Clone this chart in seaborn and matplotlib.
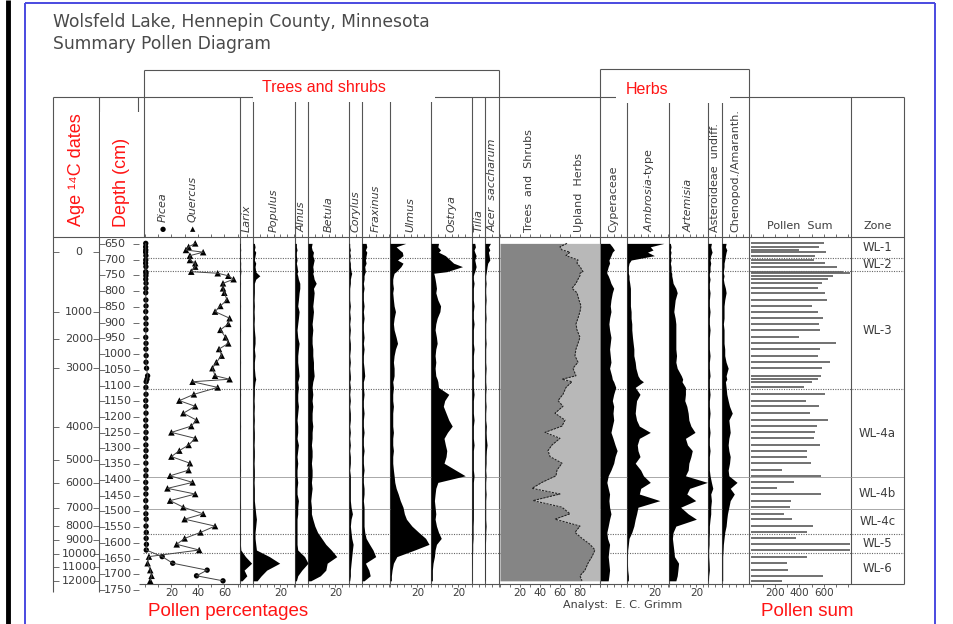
import matplotlib
matplotlib.use("Agg")
import matplotlib.pyplot as plt
from matplotlib.patches import Rectangle
import numpy as np
import pandas as pd
import seaborn as sns

sns.set_theme(style="white")
plt.rcParams["font.family"] = ["DejaVu Sans"]
plt.rcParams["mathtext.fontset"] = "dejavusans"

# ---------------------------------------------------------------- data
# sample depths (cm)
DEPTH = [648, 659, 669, 676, 687, 701, 711, 722, 738, 743,
         751, 762, 775, 791, 805, 828, 847, 865, 886, 904,
         923, 947, 966, 984, 1005, 1026, 1045, 1069, 1080, 1088,
         1106, 1128, 1148, 1166, 1188, 1210, 1229, 1249, 1268, 1289,
         1307, 1326, 1347, 1369, 1387, 1408, 1427, 1445, 1466, 1487,
         1508, 1525, 1547, 1567, 1586, 1605, 1623, 1644, 1665, 1687,
         1705, 1721]

PICEA = [0.6, 0.5, 0.6, 0.5, 0.7, 0.6, 0.5, 0.7, 0.6, 0.8,
         0.7, 0.6, 0.8, 0.7, 0.6, 0.7, 0.8, 0.6, 0.7, 0.8,
         0.7, 0.6, 0.8, 0.7, 0.9, 0.8, 1.2, 2.0, 1.5, 0.9,
         0.7, 0.8, 0.6, 0.7, 0.8, 0.6, 0.7, 0.8, 0.6, 0.7,
         0.8, 0.6, 0.7, 0.8, 0.7, 0.6, 0.8, 0.7, 0.6, 0.8,
         0.7, 0.9, 0.8, 1.0, 0.9, 1.1, 1.0, 13, 21, 47,
         39, 59]

QUERCUS = [38, 33, 31, 44, 34, 34, 38, 38, 35, 55,
           63, 67, 59, 59, 60, 62, 57, 53, 64, 63,
           57, 61, 63, 56, 58, 54, 51, 53, 64, 36,
           55, 37, 26, 38, 29, 39, 35, 20, 38, 33,
           26, 20, 34, 33, 19, 36, 17, 38, 19, 29,
           44, 30, 53, 42, 30, 24, 41, 3, 2, 4,
           5, 4]

LARIX = [0.4, 0.3, 0.5, 0.3, 0.4, 0.3, 0.5, 0.4, 0.6, 0.5,
         0.3, 0.3, 0.4, 0.3, 0.3, 0.3, 0.4, 0.3, 0.3, 0.3,
         0.4, 0.3, 0.3, 0.3, 0.3, 0.4, 0.3, 0.3, 0.3, 0.3,
         0.3, 0.4, 0.3, 0.3, 0.3, 0.3, 0.4, 0.3, 0.3, 0.3,
         0.3, 0.3, 0.3, 0.4, 0.3, 0.3, 0.3, 0.3, 0.3, 0.4,
         0.3, 0.3, 0.3, 0.3, 0.4, 0.3, 0.6, 4.0, 8.5, 3.0,
         5.0, 1.5]

POPULUS = [1.0, 1.5, 1.0, 2.0, 1.5, 1.0, 2.0, 1.5, 2.0, 3.0,
           5.0, 2.0, 1.0, 1.0, 1.0, 0.8, 1.0, 0.8, 1.0, 0.8,
           1.0, 1.5, 1.5, 1.0, 1.5, 1.0, 1.0, 1.5, 2.0, 1.5,
           1.0, 1.0, 0.8, 1.0, 0.8, 1.0, 0.8, 1.0, 1.0, 0.8,
           1.0, 1.0, 0.8, 1.0, 1.0, 0.8, 1.0, 1.0, 1.0, 1.5,
           2.0, 2.5, 2.0, 1.5, 1.5, 2.0, 2.5, 12.0, 19.5, 10.0,
           6.0, 3.0]

ALNUS = [1.0, 1.0, 1.5, 1.0, 1.0, 1.5, 1.0, 1.5, 2.0, 1.5,
         2.0, 2.5, 3.5, 3.5, 3.0, 2.5, 2.0, 3.0, 2.5, 2.0,
         1.5, 2.0, 3.0, 2.5, 2.0, 2.0, 2.5, 3.0, 2.5, 2.0,
         2.5, 2.0, 2.0, 2.5, 2.0, 1.5, 2.0, 2.0, 1.5, 2.5,
         2.0, 1.5, 2.0, 1.5, 1.5, 2.0, 1.5, 1.5, 2.5, 2.0,
         2.0, 1.5, 1.5, 1.5, 1.5, 1.5, 2.0, 7.0, 9.5, 5.0,
         2.0, 1.0]

BETULA = [3.0, 2.5, 3.0, 4.0, 3.5, 4.5, 4.0, 3.5, 4.0, 3.5,
          4.0, 4.5, 6.0, 4.0, 4.5, 4.0, 3.5, 4.0, 3.5, 3.0,
          3.5, 3.0, 3.0, 3.5, 3.5, 4.0, 4.0, 4.5, 4.0, 3.5,
          3.0, 3.5, 3.0, 3.5, 3.0, 3.0, 3.5, 3.0, 3.0, 2.5,
          3.0, 3.0, 2.5, 3.0, 3.0, 2.5, 3.0, 2.5, 2.0, 2.5,
          2.5, 3.5, 5.0, 7.0, 10.0, 13.0, 17.0, 21.0, 14.0, 13.0,
          9.0, 2.0]

CORYLUS = [0.5, 0.5, 1.0, 0.5, 1.0, 0.5, 1.0, 1.0, 1.5, 2.0,
           1.5, 1.0, 1.0, 0.5, 0.5, 0.5, 1.0, 0.5, 1.0, 0.5,
           1.0, 0.5, 1.0, 1.0, 0.5, 1.0, 0.5, 1.0, 1.0, 0.5,
           1.0, 0.5, 1.0, 0.5, 1.0, 1.0, 0.5, 1.0, 0.5, 1.0,
           0.5, 1.0, 1.0, 0.5, 1.0, 1.0, 1.0, 1.0, 1.0, 1.5,
           2.5, 1.5, 1.0, 1.5, 2.0, 3.0, 2.5, 2.0, 1.5, 1.0,
           1.0, 0.5]

FRAXINUS = [3.0, 3.5, 2.5, 3.5, 3.0, 2.5, 3.0, 2.0, 2.5, 2.0,
            1.5, 1.5, 1.0, 1.5, 1.0, 1.0, 1.5, 1.0, 1.5, 1.0,
            1.0, 1.5, 1.0, 1.5, 1.0, 1.0, 1.5, 2.0, 1.5, 1.0,
            1.0, 1.5, 1.0, 1.0, 1.5, 1.0, 1.0, 1.5, 1.0, 1.0,
            1.5, 1.0, 1.0, 1.5, 1.0, 1.0, 1.5, 1.5, 1.0, 1.5,
            1.5, 1.5, 1.5, 2.0, 3.0, 5.5, 8.0, 10.0, 2.5, 5.0,
            6.0, 1.5]

ULMUS = [11.5, 4.5, 7.0, 9.0, 9.5, 5.5, 9.5, 8.0, 4.5, 3.0,
         2.5, 2.0, 2.0, 2.5, 2.0, 2.5, 3.0, 4.0, 3.0, 2.5,
         3.0, 4.5, 5.5, 4.0, 3.0, 2.5, 3.0, 3.0, 2.5, 2.0,
         2.5, 2.0, 2.0, 2.5, 2.0, 2.0, 2.0, 2.5, 2.0, 2.0,
         2.5, 2.0, 2.0, 2.5, 3.0, 3.5, 4.5, 6.0, 7.5, 9.5,
         10.5, 12.0, 16.0, 21.0, 26.0, 28.5, 18.0, 5.0, 2.5, 1.5,
         1.0, 1.0]

OSTRYA = [5.5, 5.0, 7.0, 5.5, 10.5, 14.0, 16.5, 23.0, 11.5, 2.0,
          2.5, 3.0, 3.5, 4.0, 3.5, 5.0, 7.0, 6.5, 4.5, 3.5,
          3.0, 4.0, 4.5, 3.5, 3.0, 3.5, 3.0, 3.5, 4.5, 5.0,
          5.5, 13.0, 10.0, 9.0, 11.0, 13.0, 15.5, 12.0, 9.5, 10.5,
          11.5, 11.0, 9.5, 18.0, 25.0, 5.0, 3.5, 3.0, 2.5, 3.0,
          3.5, 3.0, 4.0, 5.5, 7.5, 4.0, 3.0, 2.5, 1.5, 1.0,
          1.0, 1.0]

TILIA = [2.0, 2.5, 1.5, 2.0, 3.0, 2.0, 2.5, 3.0, 2.0, 1.5,
         1.0, 1.0, 1.5, 1.0, 1.0, 1.0, 1.5, 1.0, 1.0, 1.5,
         1.0, 1.0, 1.0, 1.5, 1.0, 1.0, 1.0, 1.5, 1.0, 1.0,
         1.0, 1.5, 1.0, 1.0, 1.0, 1.5, 1.0, 1.0, 1.0, 1.5,
         1.0, 1.0, 1.0, 1.0, 1.5, 1.0, 1.0, 1.0, 1.0, 1.0,
         1.0, 1.0, 0.8, 0.8, 0.8, 0.5, 0.5, 0.3, 0.3, 0.2,
         0.2, 0.2]

ACER = [4.0, 2.5, 3.5, 2.5, 3.0, 3.5, 2.0, 1.5, 1.0, 0.8,
        0.5, 0.5, 0.8, 0.5, 0.5, 0.8, 0.5, 0.5, 0.8, 0.5,
        0.5, 0.5, 0.8, 0.5, 0.5, 0.5, 0.8, 0.5, 0.5, 0.5,
        0.8, 0.5, 0.5, 0.8, 0.5, 0.5, 1.0, 0.8, 1.0, 1.5,
        1.0, 0.8, 0.8, 0.5, 0.8, 0.5, 0.5, 0.8, 0.5, 0.5,
        0.5, 0.5, 0.8, 0.5, 0.5, 0.3, 0.3, 0.2, 0.2, 0.2,
        0.2, 0.2]

# trees & shrubs share of the upland sum (rest = upland herbs)
TREES_SHRUBS = [67, 60, 62, 70, 66, 78, 77, 80, 83, 80,
                80, 78, 76, 72, 77, 79, 81, 80, 78, 76,
                77, 80, 78, 76, 75, 78, 73, 76, 62, 72,
                66, 63, 58, 63, 55, 65, 62, 45, 60, 52,
                48, 50, 62, 57, 56, 42, 32, 60, 33, 62,
                70, 55, 80, 75, 82, 90, 95, 92, 88, 85,
                80, 82]

CYPERACEAE = [7.0, 9.0, 10.5, 9.0, 8.0, 6.5, 7.0, 6.0, 5.0, 5.0,
              6.0, 7.0, 8.0, 10.0, 9.0, 8.0, 7.5, 8.0, 7.0, 6.5,
              7.0, 8.0, 7.5, 7.0, 7.5, 8.0, 7.0, 8.5, 9.0, 10.0,
              11.5, 10.0, 9.0, 10.0, 9.5, 10.0, 9.0, 8.0, 9.5, 11.0,
              12.5, 11.0, 10.0, 8.0, 6.0, 5.0, 6.0, 7.0, 6.5, 7.0,
              8.0, 7.0, 6.0, 5.0, 5.5, 7.0, 6.5, 6.0, 6.5, 7.0,
              6.5, 6.0]

AMBROSIA = [27.0, 17.0, 19.0, 15.0, 20.0, 3.0, 1.5, 1.0, 1.0, 1.0,
            1.5, 1.5, 2.0, 2.5, 2.5, 2.5, 2.5, 3.0, 3.0, 3.5,
            3.5, 4.0, 4.5, 5.0, 5.0, 6.0, 6.5, 8.0, 9.5, 12.0,
            6.0, 9.5, 7.0, 6.5, 6.0, 7.0, 9.0, 17.0, 9.0, 7.5,
            8.0, 9.5, 6.0, 10.0, 12.0, 17.0, 10.0, 9.0, 24.0, 8.0,
            7.0, 6.0, 5.0, 3.5, 1.5, 1.0, 0.5, 0.3, 0.3, 0.5,
            1.0, 1.0]

ARTEMISIA = [1.0, 1.5, 1.0, 1.5, 1.0, 1.5, 1.0, 1.5, 1.5, 2.0,
             2.0, 2.5, 3.0, 5.0, 6.0, 4.5, 4.0, 3.5, 4.5, 5.0,
             5.0, 5.0, 5.0, 5.0, 5.5, 5.0, 6.0, 9.0, 10.0, 9.5,
             12.0, 12.0, 11.5, 13.0, 14.0, 14.5, 16.0, 19.0, 12.0, 13.5,
             17.0, 16.0, 14.5, 14.0, 12.0, 28.0, 15.0, 13.0, 19.5, 8.5,
             14.0, 20.0, 5.0, 3.0, 2.5, 3.0, 3.5, 4.0, 7.0, 6.5,
             6.0, 5.0]

ASTEROIDEAE = [2.5, 2.0, 2.5, 3.0, 2.0, 1.5, 2.0, 1.5, 1.5, 1.0,
               1.0, 1.5, 1.0, 1.0, 1.5, 1.0, 1.0, 1.5, 1.0, 1.0,
               1.5, 1.0, 1.0, 1.0, 1.5, 1.0, 1.0, 1.5, 1.0, 1.0,
               1.0, 1.5, 1.0, 1.0, 1.5, 1.0, 1.0, 1.5, 1.0, 1.0,
               1.5, 1.0, 1.0, 1.0, 1.5, 2.5, 3.5, 2.0, 2.5, 2.0,
               2.0, 1.5, 1.0, 1.0, 0.8, 0.8, 0.5, 0.5, 0.8, 1.0,
               0.5, 0.3]

CHENOPOD = [3.0, 2.5, 3.5, 3.0, 2.5, 2.0, 1.5, 1.5, 1.0, 1.0,
            1.5, 1.0, 1.5, 2.5, 3.0, 2.0, 1.5, 1.5, 1.5, 1.0,
            1.5, 1.5, 1.5, 2.0, 2.0, 3.0, 4.5, 3.0, 3.5, 2.5,
            3.0, 3.5, 4.5, 5.5, 7.5, 5.0, 5.5, 6.0, 5.0, 4.5,
            5.0, 6.0, 5.5, 4.5, 5.0, 11.0, 6.0, 9.0, 6.0, 5.0,
            4.0, 3.5, 3.0, 2.0, 1.5, 1.0, 0.8, 0.5, 0.5, 0.5,
            0.5, 0.5]

POLLEN_SUM = [604, 560, 399, 615, 527, 522, 609, 705, 760, 814,
              678, 637, 582, 549, 609, 623, 500, 555, 596, 560,
              568, 396, 697, 568, 549, 650, 582, 577, 555, 500,
              440, 609, 451, 560, 486, 631, 541, 527, 522, 568,
              459, 459, 492, 254, 577, 358, 219, 577, 328, 322,
              276, 336, 514, 459, 369, 814, 814, 459, 295, 309,
              590, 254]

# depth scale and radiocarbon age scale
DEPTH_TICKS = [650, 700, 750, 800, 850, 900, 950, 1000, 1050, 1100, 1150, 1200,
               1250, 1300, 1350, 1400, 1450, 1500, 1550, 1600, 1650, 1700, 1750]
AGE_LABELS = [0, 1000, 2000, 3000, 4000, 5000, 6000, 7000, 8000, 9000,
              10000, 11000, 12000]
AGE_DEPTH = [675, 865, 952, 1043, 1231, 1337, 1410, 1490, 1547, 1591,
             1636, 1677, 1722]

# pollen zones
ZONE_NAMES = ["WL-1", "WL-2", "WL-3", "WL-4a", "WL-4b", "WL-4c", "WL-5", "WL-6"]
ZONE_BOUNDS = [695, 736, 1112, 1392, 1492, 1573, 1631]
ZONE_SOLID = [1392, 1492]

# ---------------------------------------------------------------- layout
W, H = 954, 624
Y_TOP, Y_BOT = 237.0, 583.5
Y_REF, D_REF, PX_PER_CM = 244.0, 650.0, 0.3145
PCT_PX = 1.37          # pixels per percent in the taxon columns
LINE = "#555555"
TXT = "#3c3c3c"
RED = "#ff1414"

fig = plt.figure(figsize=(W / 100, H / 100), dpi=100)
fig.patch.set_facecolor("white")


def depth_at(y):
    return D_REF + (y - Y_REF) / PX_PER_CM


def panel(x0, x1, y0=Y_TOP, y1=Y_BOT, z=2):
    ax = fig.add_axes([x0 / W, 1 - y1 / H, (x1 - x0) / W, (y1 - y0) / H], zorder=z)
    ax.set_ylim(depth_at(y1), depth_at(y0))
    ax.patch.set_visible(False)
    for s in ax.spines.values():
        s.set_visible(False)
    ax.grid(False)
    ax.set_yticks([])
    return ax


def x_ticks(ax, step, labeled=()):
    lo, hi = ax.get_xlim()
    ticks = np.arange(0, hi + 1e-6, step)
    ax.set_xticks(ticks)
    ax.set_xticklabels([f"{t:g}" if round(t) in labeled else "" for t in ticks])
    ax.tick_params(axis="x", which="both", bottom=True, top=True, direction="out",
                   length=2.5, width=0.6, color=LINE, labelsize=7.5, labelcolor=TXT,
                   pad=1.0, labeltop=False)


# overlay in pixel coordinates for frames, headers and captions
ov = fig.add_axes([0, 0, 1, 1], zorder=0)
ov.set_xlim(0, W)
ov.set_ylim(H, 0)
ov.axis("off")


def hline(y, x0, x1, **kw):
    ov.plot([x0, x1], [y, y], color=kw.get("color", LINE), lw=kw.get("lw", 0.8),
            solid_capstyle="butt")


def vline(x, y0, y1, **kw):
    ov.plot([x, x], [y0, y1], color=kw.get("color", LINE), lw=kw.get("lw", 0.8),
            solid_capstyle="butt")


# page border
vline(8.5, 0, H, color="black", lw=3.5)
vline(25, 3, H, color="#4a4ae0", lw=1.4)
hline(3, 25, 935, color="#4a4ae0", lw=1.4)
vline(935, 3, H, color="#4a4ae0", lw=1.4)

# title
ov.text(53, 22, "Wolsfeld Lake, Hennepin County, Minnesota", fontsize=12.3,
        color="#4a4a4a", va="center", ha="left")
ov.text(53, 44, "Summary Pollen Diagram", fontsize=12.3, color="#4a4a4a",
        va="center", ha="left")

# table frame
HDR = 96.5
hline(HDR, 53, 904)
hline(Y_TOP, 53, 904)
hline(Y_BOT, 139, 904)
vline(53, HDR, 592)
vline(99, HDR, 592)
vline(138.5, HDR, 112)
vline(144, 70, Y_TOP)
for x in [240, 253, 295, 308, 349, 362, 390, 431, 472, 485, 627, 669, 708, 722, 851, 904]:
    vline(x, HDR, Y_BOT)
vline(499, 70, Y_BOT)
vline(600, 69, Y_BOT)
vline(749, 69, Y_BOT)
hline(70, 144, 499)
hline(69, 600, 749)

# white boxes behind the red captions
for (bx, by, bw, bh) in [(253, 72, 182, 30), (616, 75, 114, 28), (100, 112, 40, 125)]:
    ov.add_patch(Rectangle((bx, by), bw, bh, facecolor="white", edgecolor="none", zorder=3))

red_kw = dict(color=RED, family=["Liberation Sans", "DejaVu Sans"], zorder=4)
ov.text(324, 88, "Trees and shrubs", fontsize=11.5, ha="center", va="center", **red_kw)
ov.text(647, 89, "Herbs", fontsize=11.5, ha="center", va="center", **red_kw)
ov.text(77, 170, "Age \u00b9\u2074C dates", fontsize=13, rotation=90, ha="center",
        va="center", **red_kw)
ov.text(121, 182, "Depth (cm)", fontsize=13, rotation=90, ha="center", va="center", **red_kw)
ov.text(228, 611, "Pollen percentages", fontsize=13.5, ha="center", va="center", **red_kw)
ov.text(807, 611, "Pollen sum", fontsize=13.5, ha="center", va="center", **red_kw)

# column headers
HEAD = [("Larix", 247, True), ("Populus", 274, True), ("Alnus", 301.5, True),
        ("Betula", 329, True), ("Corylus", 356, True), ("Fraxinus", 376, True),
        ("Ulmus", 410, True), ("Ostrya", 452, True), ("Tilia", 478.5, True),
        ("Acer  saccharum", 492.5, True), ("Trees  and  Shrubs", 529, False),
        ("Upland  Herbs", 579, False), ("Cyperaceae", 613.5, False),
        (r"$\mathit{Ambrosia}$-type", 649, False), ("Artemisia", 689, True),
        ("Asteroideae  undiff.", 715.5, False), ("Chenopod./Amaranth.", 735.5, False)]
for name, x, it in HEAD:
    ov.text(x, 232, name, rotation=90, ha="center", va="bottom", fontsize=8,
            color=TXT, style="italic" if it else "normal")
ov.text(163, 229, "\u25cf", ha="center", va="center", fontsize=5, color="black")
ov.text(163, 222, "Picea", rotation=90, ha="center", va="bottom", fontsize=8,
        color=TXT, style="italic")
ov.text(193, 229, "\u25b2", ha="center", va="center", fontsize=5, color="black")
ov.text(193, 222, "Quercus", rotation=90, ha="center", va="bottom", fontsize=8,
        color=TXT, style="italic")
ov.text(800, 226, "Pollen  Sum", ha="center", va="center", fontsize=8, color=TXT)
ov.text(878, 226, "Zone", ha="center", va="center", fontsize=8, color=TXT)
ov.text(623, 605, "Analyst:  E. C. Grimm", ha="center", va="center", fontsize=8, color=TXT)

# ---------------------------------------------------------------- age / depth columns
age_ax = panel(53, 99, Y_TOP, 592)
age_ax.set_yticks(AGE_DEPTH)
age_ax.tick_params(axis="y", left=True, right=True, direction="in", length=4,
                   width=0.6, color=LINE, labelleft=False)
age_ax.set_xticks([])
for d, a in zip(AGE_DEPTH, AGE_LABELS):
    age_ax.text(0.57, d, str(a), transform=age_ax.get_yaxis_transform(), ha="center",
                va="center", fontsize=8, color=TXT)

dep_ax = panel(99, 139, Y_TOP, 592)
dep_ax.set_yticks(DEPTH_TICKS)
dep_ax.tick_params(axis="y", left=True, right=True, direction="in", length=4,
                   width=0.6, color=LINE, labelleft=False)
dep_ax.set_xticks([])
for d in DEPTH_TICKS:
    dep_ax.text(0.12, d, str(d), transform=dep_ax.get_yaxis_transform(), ha="left",
                va="center", fontsize=8, color=TXT)

# ---------------------------------------------------------------- zone lines
zl = panel(143, 904, z=1)
zl.set_xticks([])
for b in ZONE_BOUNDS:
    if b in ZONE_SOLID:
        zl.axhline(b, color="#9a9a9a", lw=0.6)
    else:
        zl.axhline(b, color="#666666", lw=0.8, ls=(0, (1, 1.2)))

zone_ax = panel(851, 904)
zone_ax.set_xticks([])
edges = [depth_at(Y_TOP)] + ZONE_BOUNDS + [depth_at(Y_BOT)]
for name, a, b in zip(ZONE_NAMES, edges[:-1], edges[1:]):
    zone_ax.text(0.5, (a + b) / 2, name, transform=zone_ax.get_yaxis_transform(),
                 ha="center", va="center", fontsize=8.5, color=TXT)

# ---------------------------------------------------------------- Picea / Quercus
df = pd.DataFrame({"depth": DEPTH, "picea": PICEA, "quercus": QUERCUS})
pq = panel(143, 240)
sns.lineplot(data=df, x="picea", y="depth", sort=False, estimator=None, color="#444444",
             lw=0.7, ax=pq)
sns.lineplot(data=df, x="quercus", y="depth", sort=False, estimator=None, color="#444444",
             lw=0.7, ax=pq)
sns.scatterplot(data=df, x="picea", y="depth", marker="o", s=15, color="black",
                edgecolor="none", ax=pq)
sns.scatterplot(data=df, x="quercus", y="depth", marker="^", s=22, color="black",
                edgecolor="none", ax=pq)
pq.set_xlabel("")
pq.set_ylabel("")
pq.set_xlim(-2 / 1.35, 97 / 1.35)
pq.set_ylim(depth_at(Y_BOT), depth_at(Y_TOP))
pq.set_yticks([])
x_ticks(pq, 10, (20, 40, 60))

# ---------------------------------------------------------------- silhouettes
SILHOUETTES = [
    (240, 253, LARIX, ()), (253, 295, POPULUS, (20,)), (295, 308, ALNUS, ()),
    (308, 349, BETULA, (20,)), (349, 362, CORYLUS, ()), (362, 390, FRAXINUS, ()),
    (390, 431, ULMUS, (20,)), (431, 472, OSTRYA, (20,)), (472, 485, TILIA, ()),
    (485, 499, ACER, ()), (600, 627, CYPERACEAE, ()), (627, 669, AMBROSIA, (20,)),
    (669, 708, ARTEMISIA, (20,)), (708, 722, ASTEROIDEAE, ()), (722, 749, CHENOPOD, ()),
]
for x0, x1, vals, lab in SILHOUETTES:
    ax = panel(x0, x1)
    ax.fill_betweenx(DEPTH, 0, vals, color="black", lw=0)
    ax.set_xlim(0, (x1 - x0) / PCT_PX)
    x_ticks(ax, 5, lab)

# ---------------------------------------------------------------- trees & shrubs vs upland herbs
ts = panel(499, 600)
ts.fill_betweenx(DEPTH, 0, TREES_SHRUBS, color="#858585", lw=0)
ts.fill_betweenx(DEPTH, TREES_SHRUBS, 100, color="#b8b8b8", lw=0)
ts.plot(TREES_SHRUBS, DEPTH, color="#262626", lw=0.8, ls=(0, (2, 1)))
ts.set_xlim(-1, 100)
x_ticks(ts, 10, (20, 40, 60, 80))

# ---------------------------------------------------------------- pollen sum
ps = panel(749, 851)
ps.hlines(DEPTH, 0, POLLEN_SUM, color="#666666", lw=1.3)
ps.set_xlim(-1.7 / 0.122, 100.3 / 0.122)
x_ticks(ps, 100, (200, 400, 600))

fig.savefig("out.png", dpi=100, facecolor="white")
